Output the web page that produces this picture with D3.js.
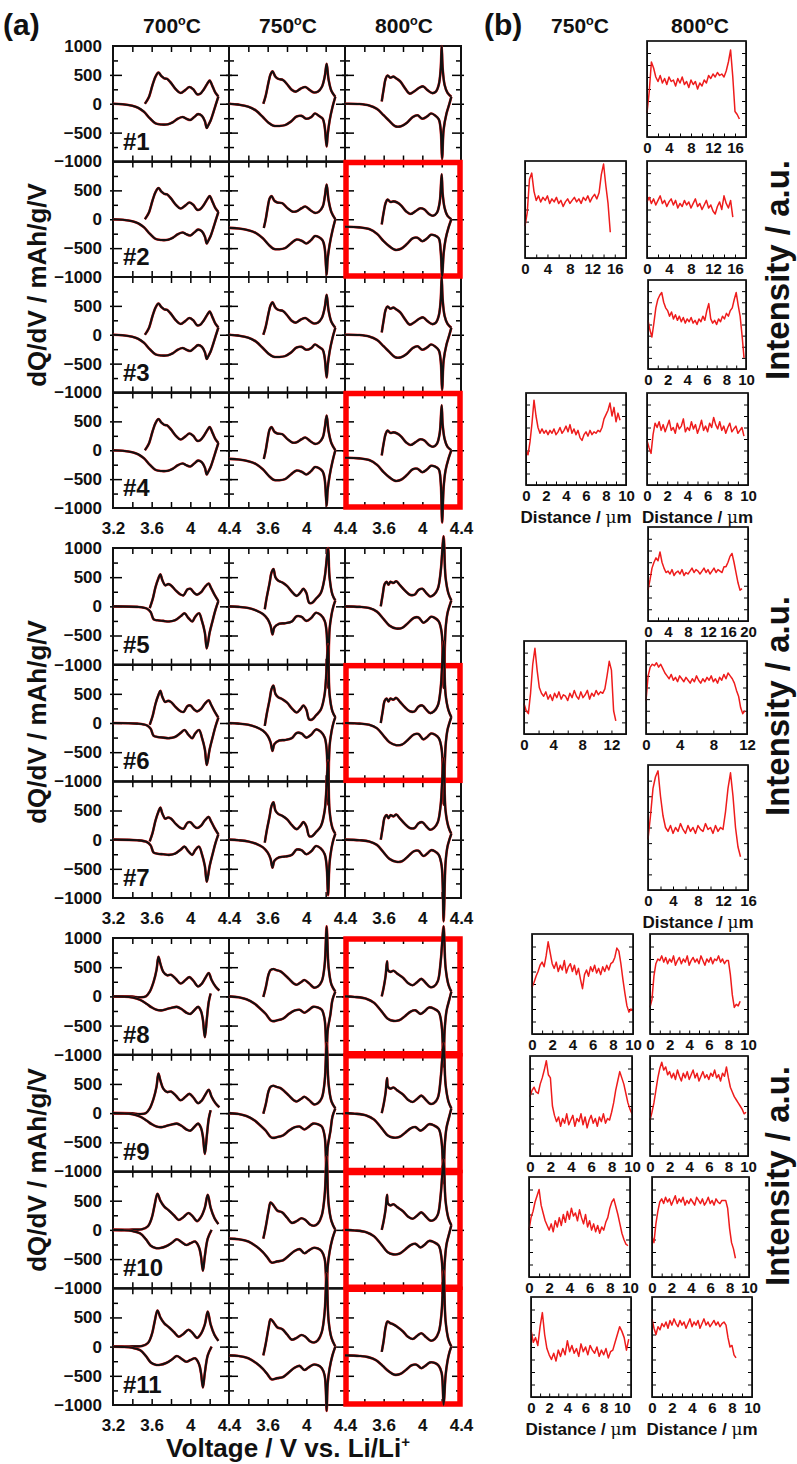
<!DOCTYPE html>
<html>
<head>
<meta charset="utf-8">
<script src="https://cdn.jsdelivr.net/npm/d3@7"></script>
<style>
  body { margin: 0; background: #fff; }
  text { font-family: "Liberation Sans", Arial, Helvetica, sans-serif; font-weight: bold; fill: #111; }
</style>
</head>
<body>
<svg id="fig" width="797" height="1464"></svg>
<script>
// ---------- data: (a) dQ/dV curves, [voltage, dQ/dV] ----------
const sampleLabels = ['#1','#2','#3','#4','#5','#6','#7','#8','#9','#10','#11'];
const tempsA = ['700', '750', '800'];
const tempsB = ['750', '800'];
const voltLabelsFirst = [3.2, 3.6, 4, 4.4];
const voltLabelsOther = [3.6, 4, 4.4];
const voltTicks = [3.4, 3.6, 3.8, 4.0, 4.2];
const dqdvLabelsTop = [1000, 500, 0, -500, -1000];
const dqdvLabels = [500, 0, -500, -1000];
const dqdvMajor = [-500, 0, 500];
const dqdvMinor = [-750, -250, 250, 750];
const boxedSamples = [2, 4, 6, 8, 9, 10, 11]; // 800°C panels outlined in red

const c700a = [[3.53,0],[3.57,110],[3.61,330],[3.64,470],[3.67,540],[3.7,480],[3.73,440],[3.76,430],[3.8,360],[3.85,250],[3.9,185],[3.95,240],[3.99,290],[4.03,250],[4.07,165],[4.1,170],[4.14,250],[4.18,360],[4.2,400],[4.23,300],[4.26,190],[4.29,125]];
const d700a = [[4.29,125],[4.27,20],[4.24,-140],[4.21,-290],[4.18,-390],[4.17,-420],[4.15,-300],[4.12,-210],[4.08,-180],[4.04,-230],[4.0,-280],[3.96,-260],[3.92,-230],[3.87,-260],[3.82,-320],[3.77,-355],[3.7,-360],[3.64,-340],[3.58,-250],[3.52,-140],[3.46,-70],[3.4,-35],[3.3,-10],[3.2,0]];

const c750a = [[3.555,0],[3.58,140],[3.61,380],[3.63,510],[3.65,560],[3.68,470],[3.71,430],[3.76,410],[3.8,340],[3.85,240],[3.89,210],[3.94,260],[3.99,290],[4.04,230],[4.08,195],[4.12,210],[4.16,290],[4.19,470],[4.21,690],[4.23,420],[4.26,220],[4.3,120]];
const d750a = [[4.3,120],[4.27,-60],[4.24,-300],[4.22,-550],[4.21,-740],[4.19,-400],[4.17,-260],[4.13,-210],[4.09,-170],[4.05,-230],[4.0,-260],[3.95,-210],[3.9,-220],[3.84,-310],[3.78,-370],[3.72,-385],[3.66,-380],[3.61,-330],[3.55,-230],[3.48,-120],[3.4,-50],[3.3,-15],[3.2,0]];
const c750b = [[3.56,-150],[3.58,0],[3.6,200],[3.62,360],[3.64,400],[3.67,320],[3.7,290],[3.75,280],[3.8,200],[3.86,130],[3.9,140],[3.95,190],[3.99,220],[4.04,160],[4.09,110],[4.13,130],[4.17,220],[4.19,380],[4.21,600],[4.23,330],[4.26,120],[4.3,0]];
const d750b = [[4.3,0],[4.27,-200],[4.24,-450],[4.22,-700],[4.21,-960],[4.19,-500],[4.17,-370],[4.13,-310],[4.09,-290],[4.05,-360],[4.0,-420],[3.96,-380],[3.9,-350],[3.84,-420],[3.78,-500],[3.72,-520],[3.66,-510],[3.61,-440],[3.55,-330],[3.48,-240],[3.4,-190],[3.3,-160],[3.2,-150]];

const c800a = [[3.58,40],[3.6,250],[3.62,430],[3.64,490],[3.67,450],[3.7,470],[3.73,440],[3.77,390],[3.82,270],[3.87,175],[3.92,220],[3.97,280],[4.01,300],[4.05,240],[4.1,185],[4.14,210],[4.17,330],[4.19,600],[4.2,1000],[4.21,620],[4.23,330],[4.26,190],[4.3,120]];
const d800a = [[4.3,120],[4.28,0],[4.25,-170],[4.22,-450],[4.205,-950],[4.19,-450],[4.17,-270],[4.13,-200],[4.09,-170],[4.05,-220],[4.0,-260],[3.95,-200],[3.9,-230],[3.84,-330],[3.78,-390],[3.72,-390],[3.66,-300],[3.6,-200],[3.53,-90],[3.45,-30],[3.35,-5],[3.2,0]];
const c800b = [[3.58,-90],[3.6,120],[3.62,280],[3.64,340],[3.67,300],[3.7,310],[3.74,290],[3.78,240],[3.83,140],[3.88,90],[3.93,140],[3.98,190],[4.02,170],[4.07,90],[4.11,60],[4.15,110],[4.18,300],[4.2,780],[4.21,450],[4.23,200],[4.26,60],[4.3,0]];
const d800b = [[4.3,0],[4.27,-150],[4.24,-350],[4.22,-600],[4.205,-1000],[4.19,-550],[4.17,-330],[4.13,-280],[4.09,-270],[4.05,-330],[4.0,-380],[3.95,-320],[3.9,-330],[3.84,-430],[3.78,-510],[3.72,-530],[3.66,-470],[3.6,-380],[3.53,-250],[3.45,-170],[3.35,-140],[3.2,-130]];
const d800b4 = [[4.3,0],[4.27,-150],[4.24,-350],[4.22,-650],[4.205,-1250],[4.19,-550],[4.17,-330],[4.13,-280],[4.09,-270],[4.05,-330],[4.0,-380],[3.95,-320],[3.9,-330],[3.84,-430],[3.78,-510],[3.72,-530],[3.66,-470],[3.6,-380],[3.53,-250],[3.45,-170],[3.35,-140],[3.2,-130]];

const c700b = [[3.58,-30],[3.61,120],[3.64,330],[3.67,480],[3.69,550],[3.71,450],[3.74,360],[3.77,380],[3.8,360],[3.85,270],[3.9,200],[3.93,190],[3.97,290],[4.0,300],[4.04,230],[4.07,200],[4.11,240],[4.15,330],[4.19,390],[4.21,330],[4.25,200],[4.29,90]];
const d700b = [[4.29,90],[4.26,-60],[4.23,-250],[4.2,-450],[4.17,-720],[4.15,-450],[4.12,-250],[4.09,-120],[4.05,-180],[4.02,-260],[3.98,-200],[3.94,-120],[3.9,-170],[3.84,-240],[3.78,-260],[3.72,-250],[3.66,-240],[3.62,-220],[3.59,-100],[3.55,-40],[3.45,-10],[3.2,0]];

const c750c = [[3.57,-50],[3.59,150],[3.62,400],[3.64,580],[3.66,640],[3.68,500],[3.71,440],[3.75,410],[3.8,350],[3.85,250],[3.9,180],[3.94,240],[3.97,300],[4.0,230],[4.03,60],[4.06,60],[4.1,130],[4.15,230],[4.19,500],[4.225,1000],[4.24,500],[4.27,200],[4.3,100]];
const c750c2 = [[3.57,-50],[3.59,150],[3.62,400],[3.64,580],[3.66,640],[3.68,500],[3.71,440],[3.75,410],[3.8,350],[3.85,250],[3.9,180],[3.94,240],[3.97,300],[4.0,230],[4.03,60],[4.06,60],[4.1,130],[4.15,230],[4.19,500],[4.225,1350],[4.24,500],[4.27,200],[4.3,100]];
const d750c = [[4.3,100],[4.28,0],[4.26,-150],[4.24,-400],[4.225,-1400],[4.21,-450],[4.19,-250],[4.15,-150],[4.1,-110],[4.05,-200],[4.0,-250],[3.95,-180],[3.9,-170],[3.85,-260],[3.78,-290],[3.72,-300],[3.67,-360],[3.65,-480],[3.63,-330],[3.6,-220],[3.55,-130],[3.48,-70],[3.4,-30],[3.3,-10],[3.2,0]];
const d750c2 = [[4.3,100],[4.28,0],[4.26,-150],[4.24,-400],[4.225,-950],[4.21,-450],[4.19,-250],[4.15,-150],[4.1,-110],[4.05,-200],[4.0,-250],[3.95,-180],[3.9,-170],[3.85,-260],[3.78,-290],[3.72,-300],[3.67,-360],[3.65,-480],[3.63,-330],[3.6,-220],[3.55,-130],[3.48,-70],[3.4,-30],[3.3,-10],[3.2,0]];

const c800c = [[3.57,0],[3.59,200],[3.61,380],[3.63,420],[3.65,370],[3.67,420],[3.7,400],[3.73,430],[3.77,360],[3.82,270],[3.87,200],[3.92,200],[3.96,280],[4.0,300],[4.04,230],[4.08,170],[4.12,200],[4.16,300],[4.19,600],[4.22,1200],[4.24,500],[4.27,220],[4.3,100]];
const c800c2 = [[3.57,0],[3.59,200],[3.61,380],[3.63,420],[3.65,370],[3.67,420],[3.7,400],[3.73,430],[3.77,360],[3.82,270],[3.87,200],[3.92,200],[3.96,280],[4.0,300],[4.04,230],[4.08,170],[4.12,200],[4.16,300],[4.19,600],[4.22,1400],[4.24,500],[4.27,220],[4.3,100]];
const d800c = [[4.3,100],[4.28,0],[4.26,-120],[4.24,-400],[4.22,-1400],[4.2,-450],[4.17,-260],[4.13,-200],[4.09,-180],[4.05,-240],[4.01,-280],[3.96,-190],[3.91,-200],[3.85,-290],[3.79,-370],[3.73,-380],[3.66,-330],[3.6,-220],[3.53,-90],[3.45,-30],[3.35,-10],[3.2,0]];

const c700c = [[3.2,0],[3.3,0],[3.4,-5],[3.48,-15],[3.54,0],[3.58,80],[3.62,250],[3.65,450],[3.67,680],[3.69,560],[3.72,420],[3.76,360],[3.8,370],[3.85,300],[3.9,220],[3.95,280],[3.99,330],[4.03,270],[4.08,170],[4.12,220],[4.16,330],[4.19,400],[4.22,280],[4.26,170],[4.3,100]];
const d700c = [[3.2,0],[3.3,-5],[3.4,-20],[3.48,-60],[3.55,-130],[3.6,-190],[3.65,-230],[3.7,-240],[3.75,-220],[3.8,-200],[3.86,-180],[3.91,-220],[3.96,-280],[4.0,-300],[4.04,-240],[4.08,-180],[4.11,-250],[4.13,-400],[4.15,-700],[4.17,-400],[4.19,-100],[4.21,50]];
const c700d = [[3.2,0],[3.3,0],[3.4,5],[3.5,10],[3.56,60],[3.6,200],[3.63,420],[3.66,620],[3.69,500],[3.73,400],[3.78,330],[3.83,250],[3.88,170],[3.93,220],[3.98,290],[4.02,240],[4.07,150],[4.11,220],[4.15,380],[4.18,600],[4.21,380],[4.25,200],[4.29,100]];
const d700d = [[3.2,0],[3.3,-5],[3.4,-20],[3.48,-60],[3.54,-160],[3.59,-270],[3.64,-310],[3.69,-310],[3.75,-280],[3.81,-220],[3.86,-160],[3.91,-210],[3.96,-260],[4.0,-230],[4.05,-200],[4.09,-300],[4.11,-450],[4.13,-700],[4.15,-450],[4.18,-150],[4.22,0]];

const c750d = [[3.555,-10],[3.58,150],[3.61,380],[3.63,450],[3.66,470],[3.69,450],[3.73,430],[3.77,380],[3.82,300],[3.87,220],[3.9,200],[3.95,250],[3.98,280],[4.03,220],[4.08,150],[4.12,170],[4.16,260],[4.19,550],[4.21,1200],[4.23,500],[4.26,200],[4.3,80]];
const d750d = [[4.3,80],[4.27,-60],[4.25,-300],[4.22,-600],[4.21,-1200],[4.19,-400],[4.16,-230],[4.12,-190],[4.07,-180],[4.02,-240],[3.98,-280],[3.93,-230],[3.88,-240],[3.82,-300],[3.76,-380],[3.7,-410],[3.64,-420],[3.58,-300],[3.53,-220],[3.46,-120],[3.38,-50],[3.3,-15],[3.2,0]];
const c750e = [[3.555,-150],[3.58,50],[3.61,330],[3.63,470],[3.66,420],[3.7,330],[3.75,300],[3.8,210],[3.85,120],[3.9,150],[3.95,200],[3.99,170],[4.04,90],[4.08,70],[4.12,110],[4.16,250],[4.19,600],[4.21,1250],[4.23,450],[4.26,150],[4.3,0]];
const d750e = [[4.3,0],[4.27,-150],[4.24,-380],[4.22,-650],[4.21,-1100],[4.19,-500],[4.16,-370],[4.12,-320],[4.07,-310],[4.02,-360],[3.98,-400],[3.93,-330],[3.88,-360],[3.82,-440],[3.76,-520],[3.7,-540],[3.64,-560],[3.6,-480],[3.55,-380],[3.48,-280],[3.4,-200],[3.3,-160],[3.2,-150]];

const c800d = [[3.58,0],[3.6,150],[3.62,350],[3.635,600],[3.645,450],[3.67,420],[3.7,440],[3.74,390],[3.8,320],[3.85,230],[3.9,190],[3.95,250],[3.99,300],[4.03,240],[4.08,160],[4.12,170],[4.16,260],[4.19,600],[4.22,1200],[4.24,500],[4.27,200],[4.3,80]];
const d800d = [[4.3,80],[4.28,-50],[4.25,-250],[4.23,-600],[4.22,-1200],[4.2,-500],[4.17,-270],[4.12,-210],[4.07,-190],[4.02,-260],[3.98,-300],[3.93,-240],[3.88,-260],[3.82,-340],[3.76,-410],[3.7,-420],[3.64,-380],[3.58,-260],[3.5,-110],[3.42,-40],[3.3,-10],[3.2,0]];
const c800e = [[3.58,-90],[3.6,100],[3.62,330],[3.64,430],[3.67,400],[3.7,380],[3.74,340],[3.8,260],[3.85,170],[3.9,130],[3.95,190],[3.99,230],[4.04,160],[4.09,100],[4.13,130],[4.17,250],[4.2,600],[4.22,1300],[4.24,450],[4.27,120],[4.3,0]];
const d800e = [[4.3,0],[4.28,-100],[4.26,-250],[4.24,-500],[4.22,-1000],[4.2,-450],[4.17,-330],[4.13,-280],[4.08,-270],[4.03,-330],[3.99,-370],[3.94,-310],[3.89,-320],[3.83,-400],[3.77,-470],[3.71,-480],[3.65,-420],[3.59,-330],[3.52,-230],[3.44,-180],[3.35,-160],[3.2,-150]];

// which charge / discharge curve goes in each sample row x temperature column
const curveTable = [
  [['c700a','d700a'], ['c750a','d750a'],  ['c800a','d800a']],
  [['c700a','d700a'], ['c750b','d750b'],  ['c800b','d800b']],
  [['c700a','d700a'], ['c750a','d750a'],  ['c800a','d800a']],
  [['c700a','d700a'], ['c750b','d750b'],  ['c800b','d800b4']],
  [['c700b','d700b'], ['c750c','d750c'],  ['c800c','d800c']],
  [['c700b','d700b'], ['c750c2','d750c'], ['c800c2','d800c']],
  [['c700b','d700b'], ['c750c2','d750c2'],['c800c2','d800c']],
  [['c700c','d700c'], ['c750d','d750d'],  ['c800d','d800d']],
  [['c700c','d700c'], ['c750d','d750d'],  ['c800d','d800d']],
  [['c700d','d700d'], ['c750e','d750e'],  ['c800d','d800d']],
  [['c700d','d700d'], ['c750e','d750e'],  ['c800e','d800e']]
];
const curves = {c700a, d700a, c750a, d750a, c750b, d750b, c800a, d800a, c800b, d800b, d800b4,
  c700b, d700b, c750c, c750c2, d750c, d750c2, c800c, c800c2, d800c,
  c700c, d700c, c700d, d700d, c750d, d750d, c750e, d750e, c800d, d800d, c800e, d800e};

// ---------- data: (b) line profiles, intensity (a.u.) sampled every `step` µm ----------
const ticks16 = [0, 4, 8, 12, 16];
const ticks20 = [0, 4, 8, 12, 16, 20];
const ticks12 = [0, 4, 8, 12];
const ticks10 = [0, 2, 4, 6, 8, 10];
const profYTicks = [8, 16, 24, 32, 40, 48, 56];

const prof1_800 = [16,30,50,46,40,37,41,36,39,35,40,37,38,34,39,36,40,35,37,33,38,35,37,32,36,34,38,36,41,39,42,40,43,41,42,40,44,50,58,40,17,15,12];
const prof2_750 = [21,30,52,56,44,38,41,37,40,38,41,36,39,37,40,36,38,34,37,39,36,38,40,37,39,36,40,38,41,37,40,42,39,43,55,62,48,36,17];
const prof2_800 = [37,40,36,39,35,38,41,36,38,34,37,39,35,38,33,36,34,38,35,37,33,36,39,34,36,32,35,38,33,35,31,29,34,37,32,41,36,33,38,27];
const prof3_800 = [35,28,23,33,44,50,53,55,48,44,42,38,41,36,39,35,38,34,37,33,36,34,37,33,35,32,36,34,38,35,42,47,36,33,35,32,36,34,38,36,40,38,42,44,50,55,46,38,24,8];
const prof4_750 = [24,21,30,43,59,48,40,36,39,36,38,35,38,36,39,35,37,40,36,38,41,37,42,36,39,35,38,33,31,35,37,34,38,35,37,36,38,37,40,46,49,52,57,48,54,44,50,45];
const prof4_800 = [31,26,22,35,43,40,44,38,42,37,41,45,38,40,36,43,39,41,46,37,40,38,44,39,42,36,40,45,38,41,37,43,40,47,42,39,44,38,41,36,40,43,37,39,41,36,38,40,34];
const prof5_800 = [21,28,36,40,43,41,47,40,36,33,34,32,35,31,33,34,32,35,31,33,32,34,36,33,35,34,32,34,36,33,35,32,34,36,33,35,34,33,37,37,40,44,46,40,33,26,21,22];
const prof6_750 = [21,16,14,28,48,59,44,32,28,26,29,24,27,23,28,25,29,24,27,26,23,28,25,30,26,24,29,25,27,30,24,28,26,30,27,29,28,31,40,50,44,16,9];
const prof6_800 = [23,40,46,48,47,49,46,48,45,42,40,38,41,37,39,36,40,38,36,39,37,35,38,36,40,37,35,38,36,39,37,40,36,38,35,39,37,41,38,42,40,38,35,30,26,18,14,16];
const prof7_800 = [26,38,52,58,61,48,38,32,30,33,29,32,30,34,31,29,33,30,32,29,33,31,30,34,31,32,29,33,30,32,31,40,52,60,48,32,22,17];
const prof8_750 = [30,33,37,40,44,46,43,50,59,52,45,42,46,40,44,41,47,39,43,45,40,44,38,42,35,29,38,41,37,43,40,44,39,42,38,43,40,44,41,45,46,49,55,53,45,35,26,18,14,16,15];
const prof8_800 = [17,22,37,45,48,47,50,46,49,45,48,46,50,44,47,49,45,48,46,50,44,47,49,46,48,45,50,47,44,48,46,49,45,48,47,50,46,48,45,47,47,38,25,17,19,18,21];
const prof9_750 = [38,42,44,41,40,46,50,55,61,52,50,32,26,22,25,19,24,21,27,20,23,26,19,24,22,27,20,25,18,23,26,21,24,19,25,22,27,21,24,23,28,34,42,48,54,50,46,40,34,30,27];
const prof9_800 = [23,28,34,42,50,56,60,55,57,52,54,50,53,49,55,51,48,53,50,54,49,52,55,50,53,48,51,54,50,52,49,53,51,55,50,52,48,53,51,57,50,44,41,38,36,34,32,30,27,28];
const prof10_750 = [30,38,42,48,52,56,46,41,36,33,30,34,29,36,32,38,33,40,35,42,37,44,39,41,36,43,38,34,40,32,36,30,34,29,33,28,32,30,35,38,44,48,50,45,40,34,28,24,21,20];
const prof10_800 = [26,22,34,42,48,50,47,51,48,50,46,49,52,47,50,48,51,46,49,47,50,48,46,51,49,47,50,46,48,51,47,49,46,50,48,47,49,49,49,44,31,22,18,12];
const prof11_750 = [43,35,38,33,45,54,40,31,27,24,28,23,30,26,31,27,36,29,33,28,31,26,34,29,32,27,33,30,28,32,26,30,27,31,25,29,30,35,40,45,42,38,30,37];
const prof11_800 = [50,44,40,45,43,47,45,48,44,49,46,50,47,45,49,46,48,44,47,50,45,48,46,49,44,47,50,46,48,45,47,49,46,48,45,47,48,46,38,32,33,27,25];

// ---------- layout ----------
const svg = d3.select('#fig');
const FONT = '"Liberation Sans", Arial, Helvetica, sans-serif';
const RED = '#ee1c1c';

function styleAxis(g, size) {
  g.attr('font-family', FONT).attr('font-size', size).attr('font-weight', 'bold').style('color', '#111');
  g.select('.domain').remove();
}

function tempLabel(x, y, t, size) {
  const tx = svg.append('text').attr('x', x).attr('y', y).attr('text-anchor', 'middle')
    .style('font-size', size + 'px');
  tx.append('tspan').text(t);
  tx.append('tspan').attr('dy', -size * 0.4).style('font-size', (size * 0.6) + 'px').text('o');
  tx.append('tspan').attr('dy', size * 0.4).text('C');
}

// ---------- (a) ----------
const aCols = [113, 229, 345, 461];
const aGroups = [
  {top: 46, bottom: 508, rows: [0, 1, 2, 3], titleY: 285},
  {top: 548, bottom: 898, rows: [4, 5, 6], titleY: 722},
  {top: 938, bottom: 1405, rows: [7, 8, 9, 10], titleY: 1170}
];

const gFrames = svg.append('g');
const gBoxes = svg.append('g');
const gCurves = svg.append('g');

aGroups.forEach(grp => {
  const rh = (grp.bottom - grp.top) / grp.rows.length;
  grp.rows.forEach((r, k) => {
    const y0 = grp.top + k * rh, y1 = y0 + rh;
    const y = d3.scaleLinear().domain([-1000, 1000]).range([y1, y0]);

    for (let c = 0; c < 3; c++) {
      const x = d3.scaleLinear().domain([3.2, 4.4]).range([aCols[c], aCols[c + 1]]);
      const x0 = aCols[c], x1 = aCols[c + 1];

      // inward ticks on all four sides
      const lMaj = gFrames.append('g').attr('transform', `translate(${x0},0)`)
        .call(d3.axisLeft(y).tickValues(dqdvMajor).tickSizeInner(-9).tickSizeOuter(0).tickFormat(''));
      lMaj.selectAll('.tick line').attr('x1', -3);
      gFrames.append('g').attr('transform', `translate(${x0},0)`)
        .call(d3.axisLeft(y).tickValues(dqdvMinor).tickSizeInner(-5).tickSizeOuter(0).tickFormat(''));
      const rMaj = gFrames.append('g').attr('transform', `translate(${x1},0)`)
        .call(d3.axisRight(y).tickValues(dqdvMajor).tickSizeInner(-9).tickSizeOuter(0).tickFormat(''));
      rMaj.selectAll('.tick line').attr('x1', 3);
      gFrames.append('g').attr('transform', `translate(${x1},0)`)
        .call(d3.axisRight(y).tickValues(dqdvMinor).tickSizeInner(-5).tickSizeOuter(0).tickFormat(''));
      gFrames.append('g').attr('transform', `translate(0,${y0})`)
        .call(d3.axisTop(x).tickValues(voltTicks).tickSizeInner(-6).tickSizeOuter(0).tickFormat(''));
      gFrames.append('g').attr('transform', `translate(0,${y1})`)
        .call(d3.axisBottom(x).tickValues(voltTicks).tickSizeInner(-6).tickSizeOuter(0).tickFormat(''));
      gFrames.selectAll('.tick line').attr('stroke-width', 1.5);

      gFrames.append('rect').attr('x', x0).attr('y', y0).attr('width', x1 - x0).attr('height', rh)
        .attr('fill', 'none').attr('stroke', '#111').attr('stroke-width', 2);

      // curves: red measured trace under black
      const line = d3.line().x(d => x(d[0])).y(d => y(d[1])).curve(d3.curveCatmullRom.alpha(0.5));
      const [cn, dn] = curveTable[r][c];
      [curves[cn], curves[dn]].forEach(pts => {
        gCurves.append('path').attr('d', line(pts)).attr('fill', 'none')
          .attr('stroke', RED).attr('stroke-width', 2.6).attr('stroke-linejoin', 'round');
        gCurves.append('path').attr('d', line(pts)).attr('fill', 'none')
          .attr('stroke', '#111').attr('stroke-width', 2.1).attr('stroke-linejoin', 'round');
      });

      if (c === 2 && boxedSamples.includes(r + 1)) {
        gBoxes.append('rect').attr('x', x0 + 1).attr('y', y0 + 1).attr('width', x1 - x0 - 2).attr('height', rh - 2)
          .attr('fill', 'none').attr('stroke', '#f00').attr('stroke-width', 5.5);
      }

      // x tick labels under the last row of a group
      if (k === grp.rows.length - 1) {
        const ax = gFrames.append('g').attr('transform', `translate(0,${y1})`)
          .call(d3.axisBottom(x).tickValues(c === 0 ? voltLabelsFirst : voltLabelsOther)
            .tickSize(0).tickPadding(14).tickFormat(d3.format('~g')));
        styleAxis(ax, 17);
      }
    }

    // y labels
    const ay = gFrames.append('g').attr('transform', `translate(${aCols[0]},0)`)
      .call(d3.axisLeft(y).tickValues(k === 0 ? dqdvLabelsTop : dqdvLabels)
        .tickSize(0).tickPadding(11).tickFormat(d3.format('d')));
    styleAxis(ay, 17);

    svg.append('text').attr('x', 123).attr('y', y1 - 12).style('font-size', '24px').text(sampleLabels[r]);
  });

  svg.append('text').attr('transform', `translate(46,${grp.titleY}) rotate(-90)`)
    .attr('text-anchor', 'middle').style('font-size', '26px').text('dQ/dV / mAh/g/V');
});

svg.append('text').attr('x', 3).attr('y', 35).style('font-size', '30px').text('(a)');
tempsA.forEach((t, i) => tempLabel((aCols[i] + aCols[i + 1]) / 2 + 1, 33, t, 21));

const vt = svg.append('text').attr('x', 288).attr('y', 1457).attr('text-anchor', 'middle').style('font-size', '26px');
vt.append('tspan').text('Voltage / V vs. Li/Li');
vt.append('tspan').attr('dy', -10).style('font-size', '15px').text('+');

// ---------- (b) ----------
svg.append('text').attr('x', 484).attr('y', 35).style('font-size', '30px').text('(b)');
tempLabel(580, 33, tempsB[0], 21);
tempLabel(700, 33, tempsB[1], 21);

const bPanels = [
  {x: 647, y: 41,   w: 99,  h: 96,  xMax: 18, ticks: ticks16, data: prof1_800,  step: 0.4},
  {x: 525, y: 161,  w: 101, h: 97,  xMax: 18, ticks: ticks16, data: prof2_750,  step: 0.4},
  {x: 647, y: 161,  w: 99,  h: 97,  xMax: 18, ticks: ticks16, data: prof2_800,  step: 0.4},
  {x: 648, y: 280,  w: 98,  h: 89,  xMax: 10, ticks: ticks10, data: prof3_800,  step: 0.2},
  {x: 526, y: 393,  w: 100, h: 92,  xMax: 10, ticks: ticks10, data: prof4_750,  step: 0.2, dist: true},
  {x: 647, y: 393,  w: 101, h: 92,  xMax: 10, ticks: ticks10, data: prof4_800,  step: 0.2, dist: true},
  {x: 648, y: 527,  w: 100, h: 94,  xMax: 20, ticks: ticks20, data: prof5_800,  step: 0.4},
  {x: 524, y: 641,  w: 102, h: 93,  xMax: 14, ticks: ticks12, data: prof6_750,  step: 0.3},
  {x: 646, y: 641,  w: 101, h: 93,  xMax: 12, ticks: ticks12, data: prof6_800,  step: 0.25},
  {x: 648, y: 765,  w: 100, h: 125, xMax: 16, ticks: ticks16, data: prof7_800,  step: 0.4, dist: true},
  {x: 532, y: 934,  w: 101, h: 100, xMax: 10, ticks: ticks10, data: prof8_750,  step: 0.2},
  {x: 650, y: 934,  w: 98,  h: 100, xMax: 10, ticks: ticks10, data: prof8_800,  step: 0.2},
  {x: 530, y: 1056, w: 102, h: 100, xMax: 10, ticks: ticks10, data: prof9_750,  step: 0.2},
  {x: 650, y: 1056, w: 98,  h: 100, xMax: 10, ticks: ticks10, data: prof9_800,  step: 0.2},
  {x: 529, y: 1177, w: 101, h: 100, xMax: 10, ticks: ticks10, data: prof10_750, step: 0.2},
  {x: 652, y: 1177, w: 97,  h: 100, xMax: 10, ticks: ticks10, data: prof10_800, step: 0.2},
  {x: 531, y: 1297, w: 100, h: 100, xMax: 11, ticks: ticks10, data: prof11_750, step: 0.25, dist: true},
  {x: 652, y: 1297, w: 100, h: 100, xMax: 10, ticks: ticks10, data: prof11_800, step: 0.2, dist: true}
];

bPanels.forEach(p => {
  const g = svg.append('g');
  const x = d3.scaleLinear().domain([0, p.xMax]).range([p.x, p.x + p.w]);
  const y = d3.scaleLinear().domain([0, 64]).range([p.y + p.h, p.y]);
  const minorStep = p.ticks[1] / 2;
  const minor = d3.range(0, p.xMax + 1e-6, minorStep);

  g.append('g').attr('transform', `translate(${p.x},0)`)
    .call(d3.axisLeft(y).tickValues(profYTicks).tickSizeInner(-4).tickSizeOuter(0).tickFormat(''));
  g.append('g').attr('transform', `translate(${p.x + p.w},0)`)
    .call(d3.axisRight(y).tickValues(profYTicks).tickSizeInner(-4).tickSizeOuter(0).tickFormat(''));
  g.append('g').attr('transform', `translate(0,${p.y + p.h})`)
    .call(d3.axisBottom(x).tickValues(minor).tickSizeInner(-3.5).tickSizeOuter(0).tickFormat(''));
  const lab = g.append('g').attr('transform', `translate(0,${p.y + p.h})`)
    .call(d3.axisBottom(x).tickValues(p.ticks).tickSize(0).tickPadding(5));
  styleAxis(lab, 15);

  const line = d3.line().x((d, i) => x(i * p.step)).y(d => y(d));
  g.append('path').attr('d', line(p.data)).attr('fill', 'none')
    .attr('stroke', RED).attr('stroke-width', 1.5).attr('stroke-linejoin', 'round');

  g.append('rect').attr('x', p.x).attr('y', p.y).attr('width', p.w).attr('height', p.h)
    .attr('fill', 'none').attr('stroke', '#111').attr('stroke-width', 1.7);

  if (p.dist) {
    const dt = g.append('text').attr('x', p.x + p.w / 2).attr('y', p.y + p.h + 38)
      .attr('text-anchor', 'middle').style('font-size', '17px');
    dt.append('tspan').text('Distance / ');
    dt.append('tspan').style('font-family', '"DejaVu Serif", "Liberation Serif", serif').style('font-weight', 'normal').text('\u03bc');
    dt.append('tspan').text('m');
  }
});

[270, 706, 1176].forEach(cy => {
  svg.append('text').attr('transform', `translate(789,${cy}) rotate(-90)`)
    .attr('text-anchor', 'middle').style('font-size', '33px').text('Intensity / a.u.');
});
</script>
</body>
</html>
